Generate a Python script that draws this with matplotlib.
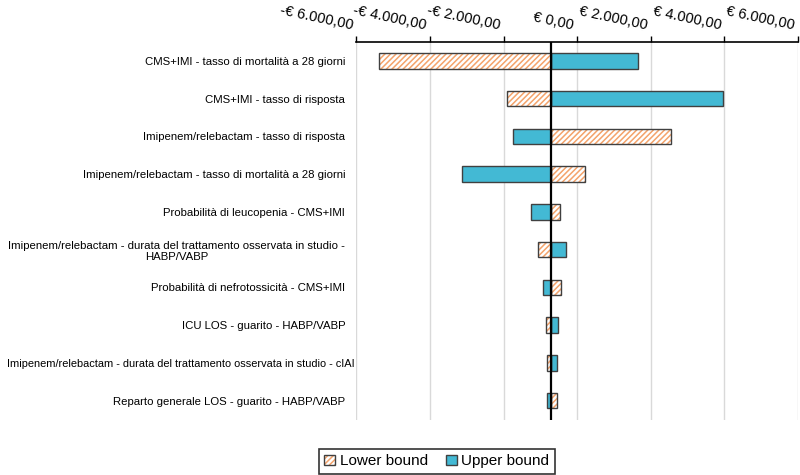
import matplotlib
matplotlib.use("Agg")
import matplotlib.pyplot as plt
import matplotlib.transforms as mtransforms
from matplotlib.patches import Patch
from matplotlib.legend_handler import HandlerTuple
from matplotlib.ticker import FuncFormatter

plt.rcParams['font.family'] = ['Liberation Sans', 'DejaVu Sans']
plt.rcParams['hatch.linewidth'] = 1.1

categories = [
    "CMS+IMI - tasso di mortalità a 28 giorni",
    "CMS+IMI - tasso di risposta",
    "Imipenem/relebactam - tasso di risposta",
    "Imipenem/relebactam - tasso di mortalità a 28 giorni",
    "Probabilità di leucopenia - CMS+IMI",
    "Imipenem/relebactam - durata del trattamento osservata in studio -\nHABP/VABP",
    "Probabilità di nefrotossicità - CMS+IMI",
    "ICU LOS - guarito - HABP/VABP",
    "Imipenem/relebactam - durata del trattamento osservata in studio - cIAI",
    "Reparto generale LOS - guarito - HABP/VABP",
]
base_value = -700
lower_bound = [-5390, -1910, 2540, 210, -460, -1070, -445, -850, -815, -555]
upper_bound = [1655, 3960, -1750, -3120, -1260, -310, -925, -515, -555, -815]
x_ticks = [-6000, -4000, -2000, 0, 2000, 4000, 6000]

orange = '#F4A36B'
blue = '#43B9D4'
edge = '#404040'

fig = plt.figure(figsize=(8, 4.75), dpi=100)
ax = fig.add_axes([0.4454, 0.1168, 0.5522, 0.7948])

y = list(range(len(categories)))
h = 0.41
lw_w = [v - base_value for v in lower_bound]
up_w = [v - base_value for v in upper_bound]

ax.barh(y, lw_w, left=base_value, height=h, color='white', edgecolor=orange,
        hatch='//////', linewidth=0, zorder=3)
ax.barh(y, lw_w, left=base_value, height=h, fill=False, edgecolor=edge,
        linewidth=1.0, zorder=4)
ax.barh(y, up_w, left=base_value, height=h, color=blue, edgecolor=edge,
        linewidth=1.0, zorder=3)

ax.axvline(base_value, color='black', linewidth=1.6, zorder=5)

ax.set_xlim(-6000, 6000)
ax.set_ylim(len(categories) - 0.5, -0.5)
ax.set_yticks(y)
ax.set_yticklabels(categories, fontsize=8.2, multialignment='center')
ax.tick_params(axis='y', length=0, pad=8)
ylabels = ax.get_yticklabels()
shift = mtransforms.ScaledTranslation(9 / 100, 0, fig.dpi_scale_trans)
ylabels[8].set_transform(ylabels[8].get_transform() + shift)
ylabels[8].set_fontsize(7.9)

def fmt(v, pos=None):
    s = f"{abs(v):,.2f}".replace(",", "X").replace(".", ",").replace("X", ".")
    return ("-€ " if v < 0 else "€ ") + s

ax.xaxis.tick_top()
ax.set_xticks(x_ticks)
ax.xaxis.set_major_formatter(FuncFormatter(fmt))
ax.tick_params(axis='x', direction='out', length=4, width=1, pad=2,
               labelsize=10.5, color='black')
offset = mtransforms.ScaledTranslation(-5 / 100, 1 / 100, fig.dpi_scale_trans)
for t in ax.get_xticklabels():
    t.set_rotation(-12)
    t.set_ha('right')
    t.set_va('bottom')
    t.set_rotation_mode('anchor')
    t.set_transform(t.get_transform() + offset)

ax.grid(axis='x', color='#d9d9d9', linewidth=1, zorder=0)
ax.set_axisbelow(True)
for s in ['left', 'right', 'bottom']:
    ax.spines[s].set_visible(False)
ax.spines['top'].set_linewidth(1.2)

h_low_fill = Patch(facecolor='white', edgecolor=orange, hatch='//////', linewidth=0)
h_low_edge = Patch(fill=False, edgecolor=edge, linewidth=1.0)
h_up = Patch(facecolor=blue, edgecolor=edge, linewidth=1.0)
leg = fig.legend([(h_low_fill, h_low_edge), h_up], ['Lower bound', 'Upper bound'],
                 handler_map={tuple: HandlerTuple(ndivide=1)},
                 loc='center', bbox_to_anchor=(0.546, 0.029), ncol=2,
                 fontsize=11, frameon=True, fancybox=False, edgecolor='black',
                 handlelength=0.7, handleheight=0.7, handletextpad=0.3,
                 columnspacing=1.2, borderpad=0.35)
leg.get_frame().set_linewidth(1.2)

fig.savefig('out.png', dpi=100)
